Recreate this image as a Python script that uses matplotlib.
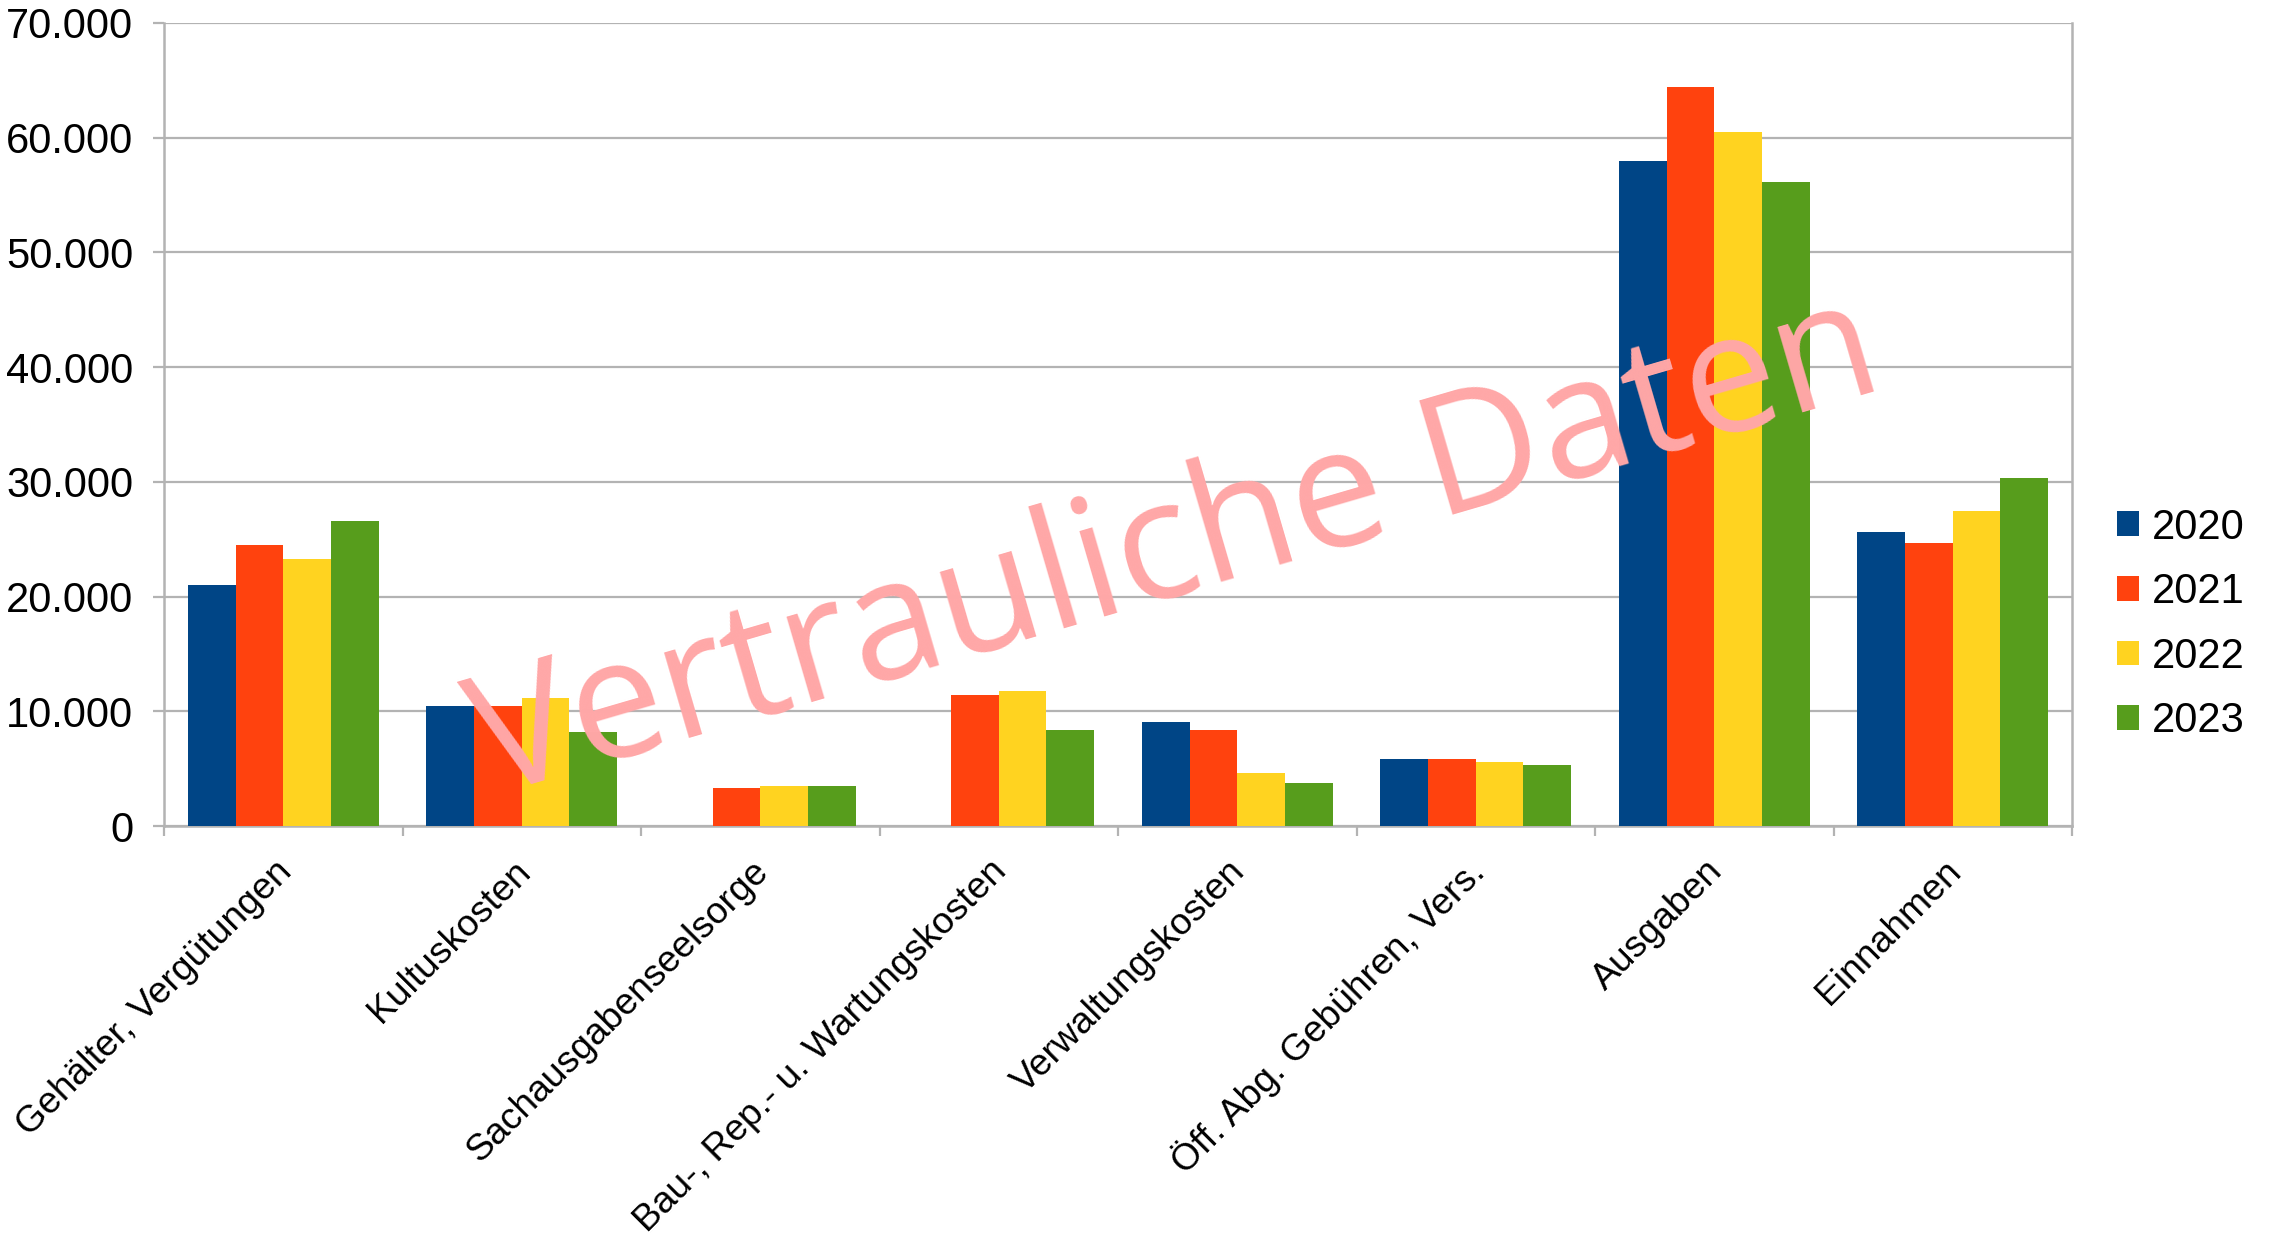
import numpy as np
import matplotlib
matplotlib.use("Agg")
import matplotlib.pyplot as plt
import matplotlib.transforms as mtransforms

categories = ["Gehälter, Vergütungen", "Kultuskosten", "Sachausgabenseelsorge",
              "Bau-, Rep.- u. Wartungskosten", "Verwaltungskosten",
              "Öff. Abg. Gebühren, Vers.", "Ausgaben", "Einnahmen"]
years = ["2020", "2021", "2022", "2023"]
v2020 = [21000, 10500, 0, 0, 9050, 5800, 58000, 25600]
v2021 = [24500, 10500, 3300, 11400, 8350, 5800, 64400, 24700]
v2022 = [23300, 11200, 3500, 11800, 4650, 5600, 60500, 27500]
v2023 = [26600, 8200, 3500, 8350, 3750, 5350, 56100, 30300]
yticks = [0, 10000, 20000, 30000, 40000, 50000, 60000, 70000]
ytick_labels = ["0", "10.000", "20.000", "30.000", "40.000", "50.000", "60.000", "70.000"]
colors = ["#004586", "#FF420E", "#FFD320", "#579D1C"]
watermark = "Vertrauliche Daten"

plt.rcParams["font.family"] = ["Liberation Sans", "DejaVu Sans"]
grid_c = "#B3B3B3"

fig = plt.figure(figsize=(22.72, 12.34), dpi=100)
ax = fig.add_axes([164/2272, 1-826/1234, (2072-164)/2272, (826-23)/1234])

x = np.arange(len(categories))
w = 0.2
series = [v2020, v2021, v2022, v2023]
for i, (vals, yr) in enumerate(zip(series, years)):
    ax.bar(x + (i - 1.5) * w, vals, width=w, color=colors[i], label=yr, zorder=3)

ax.set_xlim(-0.5, len(categories) - 0.5)
ax.set_ylim(0, 70000)
ax.set_yticks(yticks)
ax.set_yticklabels(ytick_labels, fontsize=30)
ax.yaxis.grid(True, color=grid_c, linewidth=1.6, zorder=0)
ax.set_axisbelow(True)

ax.set_xticks(np.arange(-0.5, len(categories), 1.0))
ax.set_xticklabels([])
ax.set_xticks(x, minor=True)
ax.set_xticklabels(categories, minor=True, fontsize=26.8, rotation=45,
                   ha="right", va="center", rotation_mode="anchor")
ax.tick_params(axis="x", which="minor", length=0, pad=29)
ax.tick_params(axis="x", which="major", length=7, width=1.6, color=grid_c)
ax.tick_params(axis="y", length=8, width=1.6, color=grid_c, pad=14)
off = mtransforms.ScaledTranslation(3/100, 0, fig.dpi_scale_trans)
for lab in ax.get_xticklabels(minor=True):
    lab.set_transform(lab.get_transform() + off)

for s in ["left", "right", "bottom"]:
    ax.spines[s].set_color(grid_c)
    ax.spines[s].set_linewidth(1.8)
ax.spines["top"].set_visible(False)

leg = fig.legend(loc="center left", bbox_to_anchor=(2117/2272, 0.494),
                 frameon=False, fontsize=30, handlelength=0.53, handleheight=0.53,
                 handletextpad=0.3, labelspacing=0.59, borderpad=0, borderaxespad=0)

fig.text(490/2272, 1-796/1234, watermark, family=["Open Sans", "DejaVu Sans"],
         fontsize=120, color="#FFA7A7", rotation=16.3, rotation_mode="anchor",
         ha="left", va="baseline", zorder=10)

fig.savefig("out.png", dpi=100)
